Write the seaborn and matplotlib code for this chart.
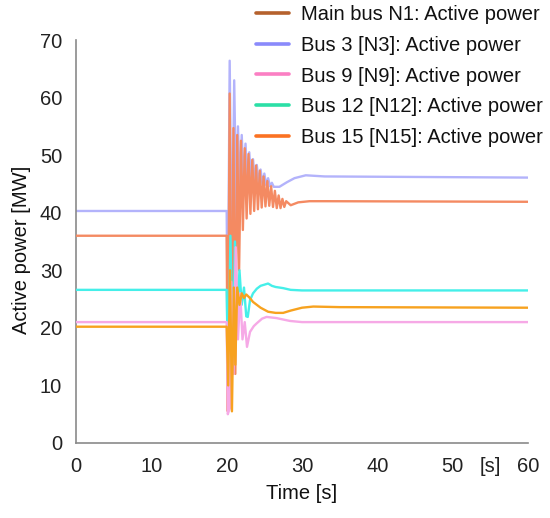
import matplotlib
matplotlib.use("Agg")
import matplotlib.pyplot as plt
from matplotlib.lines import Line2D
import seaborn as sns
import pandas as pd

# ---------------- data ----------------
series_names = [
    "Main bus N1: Active power",
    "Bus 3 [N3]: Active power",
    "Bus 9 [N9]: Active power",
    "Bus 12 [N12]: Active power",
    "Bus 15 [N15]: Active power",
]

main_t = [0, 20.0, 20.15, 20.4, 20.65, 20.9, 21.15, 21.4, 21.65, 21.9, 22.15, 22.4, 22.65,
          22.9, 23.15, 23.4, 23.65, 23.9, 24.15, 24.4, 24.65, 24.9, 25.15, 25.4, 25.65,
          25.9, 26.15, 26.4, 26.65, 26.9, 27.15, 27.4, 27.65, 27.9, 28.5, 29.5, 31, 33, 60]
main_v = [36.0, 36.0, 5.5, 60.7, 6.0, 54.7, 12.0, 53.5, 30.0, 52.5, 37.0, 51.2, 39.0,
          50.2, 39.8, 49.2, 40.3, 48.2, 40.6, 47.3, 40.9, 46.3, 41.1, 45.5, 41.2,
          44.6, 41.0, 43.8, 40.8, 43.0, 40.8, 42.4, 41.0, 42.0, 41.3, 41.8, 42.0, 42.0, 41.9]

bus3_t = [0, 20.0, 20.15, 20.4, 20.7, 21.0, 21.3, 21.5, 21.75, 22.0, 22.25, 22.5, 22.75,
          23.0, 23.25, 23.5, 23.75, 24.0, 24.25, 24.5, 24.75, 25.0, 25.25, 25.5, 25.75,
          26.0, 26.25, 27.0, 28.0, 29.0, 30.5, 33, 60]
bus3_v = [40.3, 40.3, 20.0, 66.4, 30.0, 63.0, 38.0, 55.0, 44.0, 53.5, 45.0, 52.0, 45.5,
          50.5, 45.5, 49.3, 45.3, 48.3, 45.2, 47.5, 45.0, 46.8, 44.8, 46.0, 44.6,
          45.2, 44.5, 44.5, 45.3, 46.0, 46.5, 46.3, 46.1]

bus9_t = [0, 20.0, 20.15, 20.4, 20.6, 20.9, 21.2, 21.5, 21.8, 22.1, 22.4, 22.7, 23.1,
          23.6, 24.0, 24.7, 25.3, 26.6, 28.4, 30, 60]
bus9_v = [21.0, 21.0, 5.0, 6.0, 28.0, 12.0, 34.0, 18.0, 26.0, 18.0, 21.0, 16.7, 19.3,
          20.3, 20.8, 21.6, 21.9, 21.7, 21.2, 21.0, 21.0]

bus12_t = [0, 20.0, 20.2, 20.5, 20.8, 21.1, 21.4, 21.7, 22.0, 22.3, 22.6, 22.8, 23.1,
           23.5, 24.0, 24.5, 25.0, 25.5, 26.0, 26.5, 27.5, 28.5, 30, 60]
bus12_v = [26.6, 26.6, 10.0, 36.0, 15.0, 35.0, 22.0, 30.0, 24.0, 27.0, 22.0, 21.9, 24.8,
           26.0, 26.8, 27.3, 27.5, 27.7, 27.3, 27.1, 26.9, 26.6, 26.5, 26.5]

bus15_t = [0, 20.0, 20.2, 20.45, 20.7, 20.95, 21.15, 21.4, 21.7, 22.0, 22.3, 22.6, 23.0,
           23.5, 24.5, 25.5, 26.5, 27.5, 28.5, 30, 31.5, 35, 60]
bus15_v = [20.2, 20.2, 10.0, 30.0, 5.5, 27.0, 13.6, 27.0, 24.0, 26.0, 25.2, 25.8, 25.3,
           24.5, 23.5, 22.8, 22.6, 22.6, 23.0, 23.5, 23.7, 23.6, 23.5]

x_ticks = [0, 10, 20, 30, 40, 50, 55, 60]
x_tick_labels = ["0", "10", "20", "30", "40", "50", "[s]", "60"]
y_ticks = [0, 10, 20, 30, 40, 50, 60, 70]

# ---------------- styling ----------------
line_colors = {
    series_names[0]: "#f48a62",
    series_names[1]: "#b3b3fb",
    series_names[2]: "#f6a9e6",
    series_names[3]: "#45efe9",
    series_names[4]: "#f7a21f",
}
legend_colors = ["#b5612d", "#8a8afb", "#fb7fc3", "#2bdfa6", "#fb7222"]

sns.set_theme(style="white")
plt.rcParams["font.family"] = ["Liberation Sans", "DejaVu Sans"]

fig = plt.figure(figsize=(5.5, 5.18), dpi=100)
ax = fig.add_axes([76 / 550, 1 - 443 / 518, (528 - 76) / 550, (443 - 40) / 518])

data = {
    series_names[0]: (main_t, main_v),
    series_names[1]: (bus3_t, bus3_v),
    series_names[2]: (bus9_t, bus9_v),
    series_names[3]: (bus12_t, bus12_v),
    series_names[4]: (bus15_t, bus15_v),
}
draw_order = [series_names[1], series_names[0], series_names[3], series_names[2], series_names[4]]
for z, name in enumerate(draw_order):
    t, v = data[name]
    df = pd.DataFrame({"Time": t, "Power": v, "Series": name})
    sns.lineplot(data=df, x="Time", y="Power", color=line_colors[name], lw=1.7,
                 ax=ax, legend=False, zorder=2 + z, estimator=None, sort=False)

ax.set_xlim(0, 60)
ax.set_ylim(0, 70)
ax.set_xticks(x_ticks)
ax.set_xticklabels(x_tick_labels)
ax.set_yticks(y_ticks)
ax.tick_params(axis="both", length=0, labelsize=14.5, colors="#222222")
ax.tick_params(axis="x", pad=10)
ax.tick_params(axis="y", pad=10)
for s in ["top", "right"]:
    ax.spines[s].set_visible(False)
for s in ["left", "bottom"]:
    ax.spines[s].set_color("#8a8a8a")
    ax.spines[s].set_linewidth(1.2)

ax.set_xlabel("Time [s]", fontsize=14.5, color="#111111", labelpad=6)
ax.set_ylabel("Active power [MW]", fontsize=14.5, color="#111111")
ax.yaxis.set_label_coords(-0.1, 0.48)

handles = [Line2D([0], [0], color=c, lw=2.6) for c in legend_colors]
leg = fig.legend(handles, series_names, loc="upper left",
                 bbox_to_anchor=(256 / 550, 0.99), frameon=False,
                 fontsize=14.5, handlelength=1.65, handletextpad=0.6,
                 labelspacing=0.58, borderaxespad=0, borderpad=0)
for txt in leg.get_texts():
    txt.set_color("#111111")

fig.savefig("out.png", dpi=100)
